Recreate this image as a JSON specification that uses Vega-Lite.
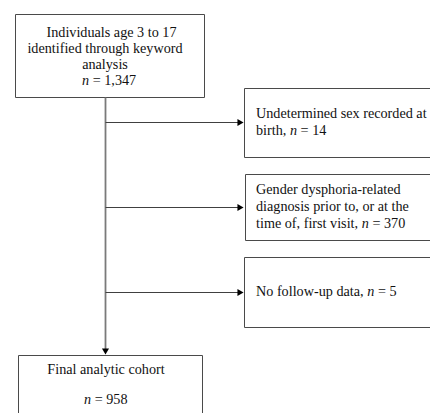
{
  "$schema": "https://vega.github.io/schema/vega-lite/v6.json",
  "width": 430,
  "height": 413,
  "padding": 0,
  "autosize": {"type": "none"},
  "background": "white",
  "config": {"view": {"stroke": null}},
  "datasets": {
    "boxes": [
      {"box": "start", "x": 15.5, "x2": 204.5, "y": 14.5, "y2": 97.5},
      {"box": "excl1", "x": 244.5, "x2": 440, "y": 88.5, "y2": 157.5},
      {"box": "excl2", "x": 245.5, "x2": 440, "y": 174.5, "y2": 240.5},
      {"box": "excl3", "x": 244.5, "x2": 440, "y": 257.5, "y2": 327.5},
      {"box": "final", "x": 18.5, "x2": 202.5, "y": 355.5, "y2": 430}
    ],
    "trunk": [
      {"seg": "trunk", "x": 105.5, "x2": 105.5, "y": 97.5, "y2": 349}
    ],
    "branches": [
      {"seg": "b1", "x": 105.5, "x2": 238, "y": 122.5, "y2": 122.5},
      {"seg": "b2", "x": 105.5, "x2": 238, "y": 207.5, "y2": 207.5},
      {"seg": "b3", "x": 105.5, "x2": 238, "y": 292.5, "y2": 292.5}
    ],
    "arrowsRight": [
      {"x": 240.5, "y": 122.5},
      {"x": 240.5, "y": 207.5},
      {"x": 240.5, "y": 292.5}
    ],
    "arrowsDown": [
      {"x": 105.5, "y": 351.5}
    ],
    "textCenter": [
      {"x": 111.5, "y": 33, "text": "Individuals age 3 to 17"},
      {"x": 105, "y": 49, "text": "identified through keyword"},
      {"x": 105, "y": 65, "text": "analysis"},
      {"x": 106, "y": 370, "text": "Final analytic cohort"}
    ],
    "textLeft": [
      {"x": 92.7, "y": 81, "text": "= 1,347"},
      {"x": 94.7, "y": 400, "text": "= 958"},
      {"x": 256, "y": 114, "text": "Undetermined sex recorded at"},
      {"x": 256, "y": 131, "text": "birth,"},
      {"x": 300.6, "y": 131, "text": "= 14"},
      {"x": 256, "y": 190, "text": "Gender dysphoria-related"},
      {"x": 256, "y": 207, "text": "diagnosis prior to, or at the"},
      {"x": 256, "y": 224, "text": "time of, first visit,"},
      {"x": 372.4, "y": 224, "text": "= 370"},
      {"x": 256, "y": 292, "text": "No follow-up data,"},
      {"x": 377.9, "y": 292, "text": "= 5"}
    ],
    "textItalic": [
      {"x": 82, "y": 81, "text": "n"},
      {"x": 84, "y": 400, "text": "n"},
      {"x": 290, "y": 131, "text": "n"},
      {"x": 361.7, "y": 224, "text": "n"},
      {"x": 367.2, "y": 292, "text": "n"}
    ]
  },
  "layer": [
    {
      "data": {"name": "boxes"},
      "mark": {"type": "rect", "fill": "white", "stroke": "#4a4a4a", "strokeWidth": 1, "clip": true},
      "encoding": {
        "x": {"field": "x", "type": "quantitative", "scale": {"domain": [0, 430], "nice": false, "zero": false}, "axis": null},
        "x2": {"field": "x2"},
        "y": {"field": "y", "type": "quantitative", "scale": {"domain": [0, 413], "nice": false, "zero": false, "reverse": true}, "axis": null},
        "y2": {"field": "y2"}
      }
    },
    {
      "data": {"name": "trunk"},
      "mark": {"type": "rule", "stroke": "#7a7a7a", "strokeWidth": 1.8},
      "encoding": {
        "x": {"field": "x", "type": "quantitative"},
        "x2": {"field": "x2"},
        "y": {"field": "y", "type": "quantitative"},
        "y2": {"field": "y2"}
      }
    },
    {
      "data": {"name": "branches"},
      "mark": {"type": "rule", "stroke": "#404040", "strokeWidth": 1.1},
      "encoding": {
        "x": {"field": "x", "type": "quantitative"},
        "x2": {"field": "x2"},
        "y": {"field": "y", "type": "quantitative"},
        "y2": {"field": "y2"}
      }
    },
    {
      "data": {"name": "arrowsRight"},
      "mark": {"type": "point", "shape": "triangle-right", "filled": true, "fill": "#000", "stroke": null, "size": 50, "opacity": 1},
      "encoding": {
        "x": {"field": "x", "type": "quantitative"},
        "y": {"field": "y", "type": "quantitative"}
      }
    },
    {
      "data": {"name": "arrowsDown"},
      "mark": {"type": "point", "shape": "triangle-down", "filled": true, "fill": "#000", "stroke": null, "size": 50, "opacity": 1},
      "encoding": {
        "x": {"field": "x", "type": "quantitative"},
        "y": {"field": "y", "type": "quantitative"}
      }
    },
    {
      "data": {"name": "textCenter"},
      "mark": {"type": "text", "align": "center", "baseline": "middle", "font": "Liberation Serif", "fontSize": 14.2, "color": "#111111"},
      "encoding": {
        "x": {"field": "x", "type": "quantitative"},
        "y": {"field": "y", "type": "quantitative"},
        "text": {"field": "text"}
      }
    },
    {
      "data": {"name": "textLeft"},
      "mark": {"type": "text", "align": "left", "baseline": "middle", "font": "Liberation Serif", "fontSize": 14.2, "color": "#111111"},
      "encoding": {
        "x": {"field": "x", "type": "quantitative"},
        "y": {"field": "y", "type": "quantitative"},
        "text": {"field": "text"}
      }
    },
    {
      "data": {"name": "textItalic"},
      "mark": {"type": "text", "align": "left", "baseline": "middle", "fontStyle": "italic", "font": "Liberation Serif", "fontSize": 14.2, "color": "#111111"},
      "encoding": {
        "x": {"field": "x", "type": "quantitative"},
        "y": {"field": "y", "type": "quantitative"},
        "text": {"field": "text"}
      }
    }
  ]
}
